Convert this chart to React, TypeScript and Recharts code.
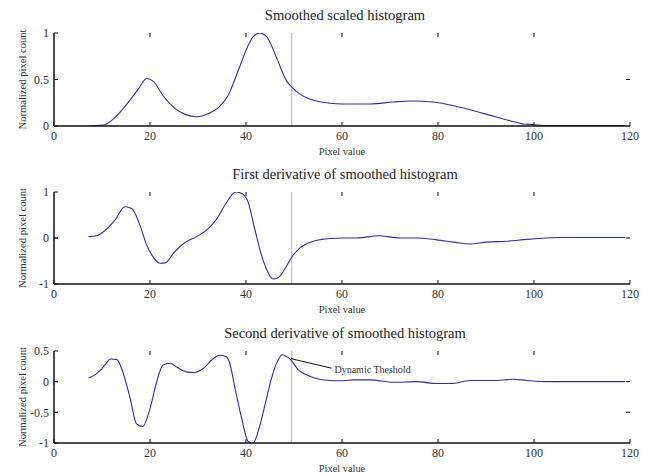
import React from "react"
import { LineChart, Line, XAxis, YAxis, ReferenceLine, ReferenceDot } from "recharts"

const xTicks = [0, 20, 40, 60, 80, 100, 120]

const smoothX = [7, 10.3, 12.7, 15.1, 17.6, 19.3, 20.7, 22.8, 25.2, 27.3, 29.7, 32.2, 34.3, 36.3, 38.4, 40.5, 41.5, 42.9, 44.3, 46.4, 48.5, 49.5, 51.3, 53.3, 55.4, 57.5, 60, 65.8, 70.7, 74.2, 79.4, 83.5, 89.4, 95, 97.8, 99.8, 102.6, 119]
const smoothY = [0, 0.01, 0.09, 0.23, 0.4, 0.51, 0.48, 0.32, 0.19, 0.125, 0.1, 0.135, 0.2, 0.33, 0.6, 0.87, 0.96, 1.0, 0.96, 0.73, 0.48, 0.42, 0.34, 0.29, 0.26, 0.245, 0.237, 0.237, 0.258, 0.269, 0.255, 0.215, 0.136, 0.057, 0.022, 0.016, 0.005, 0.005]

const firstX = [7.2, 8.9, 10.6, 12.7, 14.8, 16.2, 17.9, 19.3, 20.7, 22.1, 23.2, 24.9, 27, 29.7, 32.2, 34, 35.8, 37.9, 38.9, 40.3, 41.7, 43.1, 44.5, 45.6, 46.6, 48.4, 49.5, 51.3, 53.7, 55.8, 57.5, 60.3, 63.1, 67.6, 72.1, 75.6, 79.7, 83.2, 86.7, 90.1, 94.3, 98.5, 102.6, 105.4, 119]
const firstY = [0.03, 0.05, 0.16, 0.39, 0.68, 0.64, 0.28, -0.15, -0.42, -0.55, -0.54, -0.33, -0.12, 0.03, 0.21, 0.43, 0.75, 1.0, 0.98, 0.82, 0.25, -0.33, -0.73, -0.89, -0.87, -0.62, -0.42, -0.21, -0.08, -0.03, -0.01, 0, 0, 0.05, 0, 0, -0.04, -0.09, -0.13, -0.09, -0.07, -0.03, 0, 0.01, 0.01]

const secondX = [7.2, 8.9, 10.6, 11.8, 13.1, 14.1, 15.8, 17.2, 18.5, 20, 21.3, 22.7, 24.2, 25.5, 27.6, 29.3, 31, 33.1, 34.5, 35.8, 36.5, 37.8, 39.1, 40.5, 41.5, 42.8, 44.2, 45.2, 46.3, 47.6, 48.4, 49.3, 50.7, 53.3, 55.3, 57.5, 60.3, 62.4, 65.8, 70.7, 75.6, 79.7, 82.8, 86.7, 92.2, 95.7, 98.5, 102.6, 119]
const secondY = [0.06, 0.13, 0.27, 0.37, 0.36, 0.21, -0.25, -0.69, -0.73, -0.44, -0.03, 0.27, 0.3, 0.24, 0.16, 0.15, 0.21, 0.37, 0.43, 0.41, 0.33, -0.14, -0.6, -0.98, -1.0, -0.74, -0.3, 0.02, 0.29, 0.44, 0.41, 0.36, 0.21, 0.09, 0.04, 0.02, 0.015, 0.03, 0.03, -0.01, 0, -0.03, -0.03, 0.02, 0.02, 0.04, 0.02, 0, 0]

const thresholdX = 49.5
const font = "Liberation Serif, DejaVu Serif, Times New Roman, serif"
const lineColor = "#2f2f9c"
const plotWidth = 576
const tickPx = 4
const gap = 5

const zip = (xs: number[], ys: number[]) => xs.map((x, i) => ({ x, y: ys[i] }))

// bottom axis: label plus an inward tick, placed where recharts puts the tick
const BottomTick = (p: any) => (
  <g>
    <line x1={p.x} x2={p.x} y1={p.y - gap} y2={p.y - gap - tickPx} stroke="#111" />
    <text x={p.x} y={p.y} dy="0.75em" textAnchor="middle" fontSize={12} fill="#333" fontFamily={font}>
      {p.payload.value}
    </text>
  </g>
)
const LeftTick = (p: any) => (
  <g>
    <line x1={p.x + gap} x2={p.x + gap + tickPx} y1={p.y} y2={p.y} stroke="#111" />
    <text x={p.x} y={p.y} dy="0.35em" textAnchor="end" fontSize={12} fill="#333" fontFamily={font}>
      {p.payload.value}
    </text>
  </g>
)

type PanelProps = {
  title: string
  xs: number[]
  ys: number[]
  top: number
  plotHeight: number
  yDomain: [number, number]
  yTicks: number[]
  annotate?: boolean
}

function Panel({ title, xs, ys, top, plotHeight, yDomain, yTicks, annotate }: PanelProps) {
  const data = zip(xs, ys)
  const axisLine = { stroke: "#111", strokeWidth: 1.5 }
  const [y0, y1] = yDomain
  // inward tick length in data units
  const dx = (tickPx * 120) / plotWidth
  const dy = (tickPx * (y1 - y0)) / plotHeight
  const tickSegs: { x: number; y: number }[][] = []
  xTicks.slice(1, -1).forEach((t) => {
    tickSegs.push([{ x: t, y: y1 }, { x: t, y: y1 - dy }])
  })
  yTicks.slice(1, -1).forEach((t) => {
    tickSegs.push([{ x: 0.001, y: t }, { x: dx, y: t }])
    tickSegs.push([{ x: 120, y: t }, { x: 120 - dx, y: t }])
  })
  return (
    <div style={{ position: "absolute", left: 0, top, fontFamily: font }}>
      <div
        style={{
          position: "absolute",
          left: 54,
          width: 582,
          top: 6,
          textAlign: "center",
          fontFamily: font,
          fontSize: 14.5,
          lineHeight: "18px",
          color: "#222",
        }}
      >
        {title}
      </div>
      <LineChart
        width={649}
        height={plotHeight + 67}
        data={data}
        margin={{ top: 33, right: 19, bottom: 4, left: 14 }}
        style={{ fontFamily: font }}
      >
        <XAxis
          xAxisId="b"
          dataKey="x"
          type="number"
          domain={[0, 120]}
          ticks={xTicks}
          interval={0}
          height={30}
          tickSize={0}
          tickMargin={gap}
          axisLine={axisLine}
          tickLine={false}
          tick={BottomTick}
          label={{ value: "Pixel value", position: "insideBottom", offset: 1, fontSize: 10.4, fill: "#333", fontFamily: font }}
        />
        <XAxis
          xAxisId="t"
          orientation="top"
          dataKey="x"
          type="number"
          domain={[0, 120]}
          ticks={xTicks}
          height={0}
          tick={false}
          axisLine={axisLine}
          tickLine={false}
        />
        <YAxis
          yAxisId="l"
          type="number"
          domain={yDomain}
          ticks={yTicks}
          interval={0}
          allowDataOverflow
          width={40}
          tickSize={0}
          tickMargin={gap}
          axisLine={axisLine}
          tickLine={false}
          tick={LeftTick}
          label={{
            value: "Normalized pixel count",
            angle: -90,
            position: "insideLeft",
            offset: 8,
            fontSize: 10.6,
            fill: "#333",
            fontFamily: font,
            style: { textAnchor: "middle" },
          }}
        />
        <YAxis
          yAxisId="r"
          orientation="right"
          type="number"
          domain={yDomain}
          ticks={yTicks}
          width={0}
          tick={false}
          axisLine={axisLine}
          tickLine={false}
        />
        <ReferenceLine xAxisId="b" yAxisId="l" x={thresholdX} stroke="#c8c8c8" strokeWidth={1.5} />
        {tickSegs.map((seg, i) => (
          <ReferenceLine key={i} xAxisId="b" yAxisId="l" segment={seg} stroke="#111" strokeWidth={1} ifOverflow="visible" />
        ))}
        <Line
          xAxisId="b"
          yAxisId="l"
          type="monotone"
          dataKey="y"
          stroke={lineColor}
          strokeWidth={1.1}
          dot={false}
          isAnimationActive={false}
        />
        {annotate && (
          <ReferenceLine
            xAxisId="b"
            yAxisId="l"
            segment={[{ x: 49.4, y: 0.375 }, { x: 57.8, y: 0.22 }]}
            stroke="#111"
            strokeWidth={1}
          />
        )}
        {annotate && (
          <ReferenceDot
            xAxisId="b"
            yAxisId="l"
            x={57.8}
            y={0.2}
            r={0.01}
            fill="none"
            stroke="none"
            label={{ value: "Dynamic Theshold", position: "right", offset: 3, fontSize: 10, fill: "#333", fontFamily: font }}
          />
        )}
      </LineChart>
    </div>
  )
}

export default function App() {
  return (
    <div style={{ position: "absolute", left: 0, top: 0, width: 649, height: 474, overflow: "hidden", background: "#fff" }}>
      <Panel title="Smoothed scaled histogram" xs={smoothX} ys={smoothY} top={0} plotHeight={93} yDomain={[0, 1]} yTicks={[0, 0.5, 1]} />
      <Panel title="First derivative of smoothed histogram" xs={firstX} ys={firstY} top={159} plotHeight={92} yDomain={[-1, 1]} yTicks={[-1, 0, 1]} />
      <Panel title="Second derivative of smoothed histogram" xs={secondX} ys={secondY} top={318} plotHeight={92} yDomain={[-1, 0.5]} yTicks={[-1, -0.5, 0, 0.5]} annotate />
    </div>
  )
}
